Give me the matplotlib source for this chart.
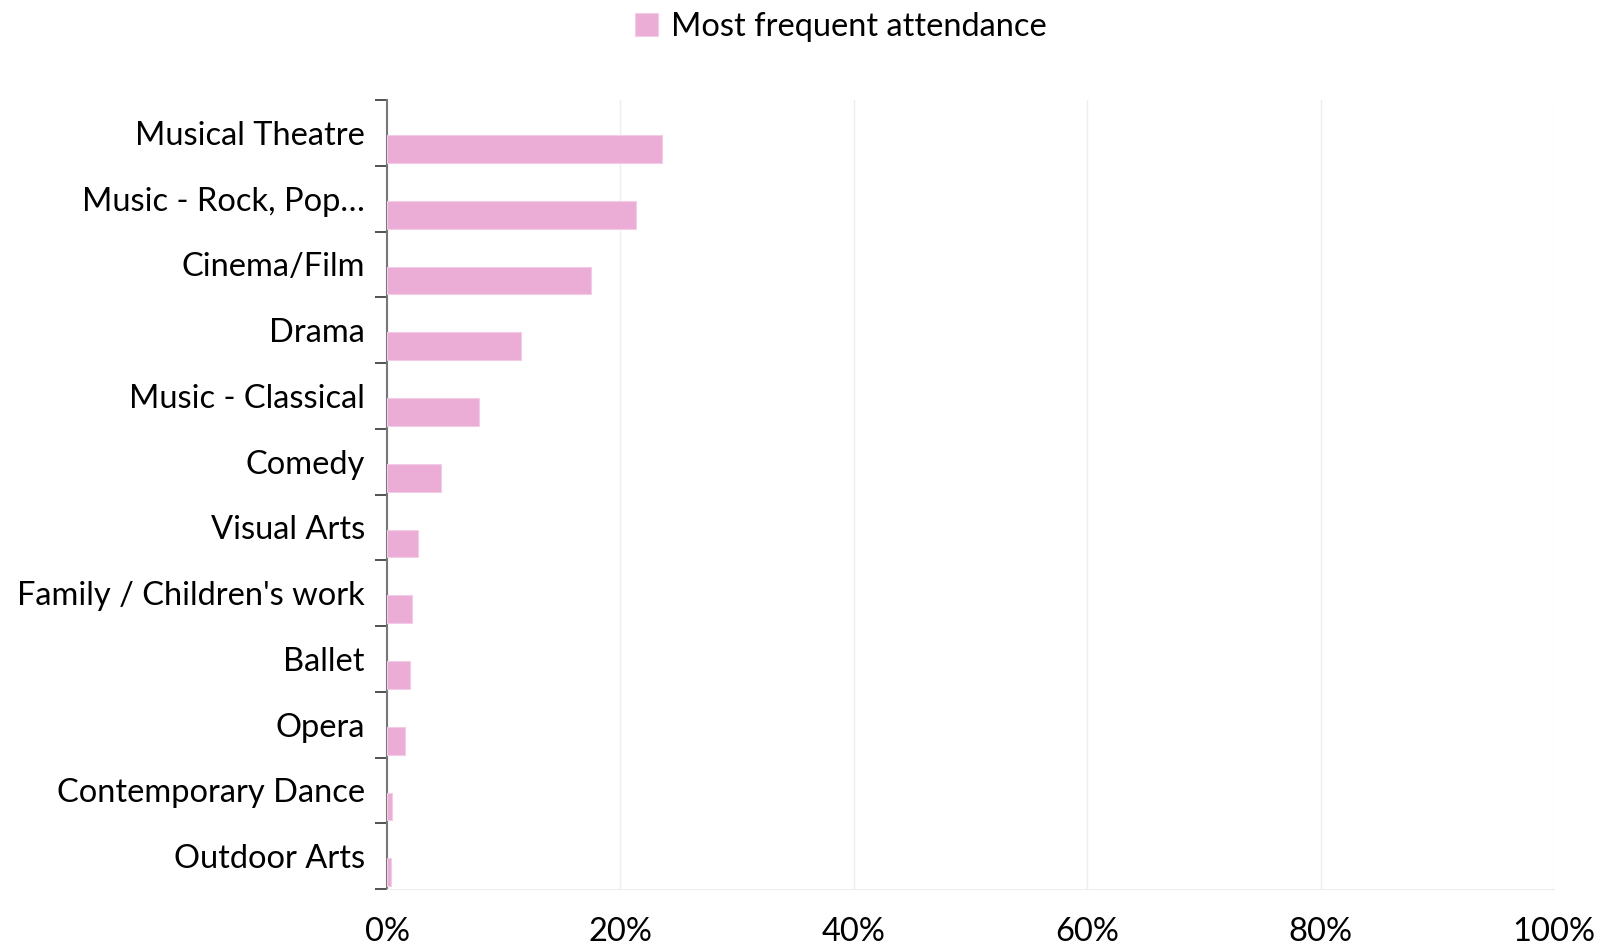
import numpy as np
import matplotlib.pyplot as plt
from matplotlib.ticker import FuncFormatter

categories = ["Musical Theatre", "Music - Rock, Pop\u2026", "Cinema/Film", "Drama",
              "Music - Classical", "Comedy", "Visual Arts", "Family / Children's work",
              "Ballet", "Opera", "Contemporary Dance", "Outdoor Arts"]
most_frequent = [23.6, 21.3, 17.5, 11.5, 7.9, 4.6, 2.65, 2.1, 2.0, 1.5, 0.45, 0.3]
xticks = [0, 20, 40, 60, 80, 100]

plt.rcParams['font.family'] = ['Lato', 'DejaVu Sans']
pink = '#EBADD6'

fig = plt.figure(figsize=(15.98, 9.47), dpi=100)
ax = fig.add_axes([0.2422, 0.0612, 0.7303, 0.8332])

n = len(categories)
y = np.arange(n)
# bar sits in the lower half of each band (second series slot)
ax.barh(y + 0.245, most_frequent, height=0.42, color=pink, edgecolor='#F3CDE6',
        linewidth=0.8, label='Most frequent attendance', zorder=3)

ax.set_xlim(0, 100)
ax.set_ylim(n - 0.5, -0.5)
ax.set_xticks(xticks)
ax.xaxis.set_major_formatter(FuncFormatter(lambda v, p: f"{v:.0f}%"))
ax.tick_params(axis='x', length=0, labelsize=23.5, pad=20)
ax.grid(axis='x', color='#EEEEEE', linewidth=1, zorder=0)

ax.set_yticks(y)
ax.set_yticklabels(categories)
ax.set_yticks(np.arange(n + 1) - 0.5, minor=True)
ax.tick_params(axis='y', which='major', length=0, labelsize=23.5, pad=16)
ax.tick_params(axis='y', which='minor', length=9, width=1.3, color='#444444')

for s in ['top', 'right']:
    ax.spines[s].set_visible(False)
ax.spines['left'].set_color('#777777')
ax.spines['left'].set_linewidth(1.5)
ax.spines['bottom'].set_color('#EEEEEE')

fig.legend(loc='upper center', bbox_to_anchor=(0.526, 1.018), frameon=False,
           fontsize=23.5, handlelength=0.7, handleheight=0.7, handletextpad=0.4)

fig.savefig('out.png', dpi=100)
